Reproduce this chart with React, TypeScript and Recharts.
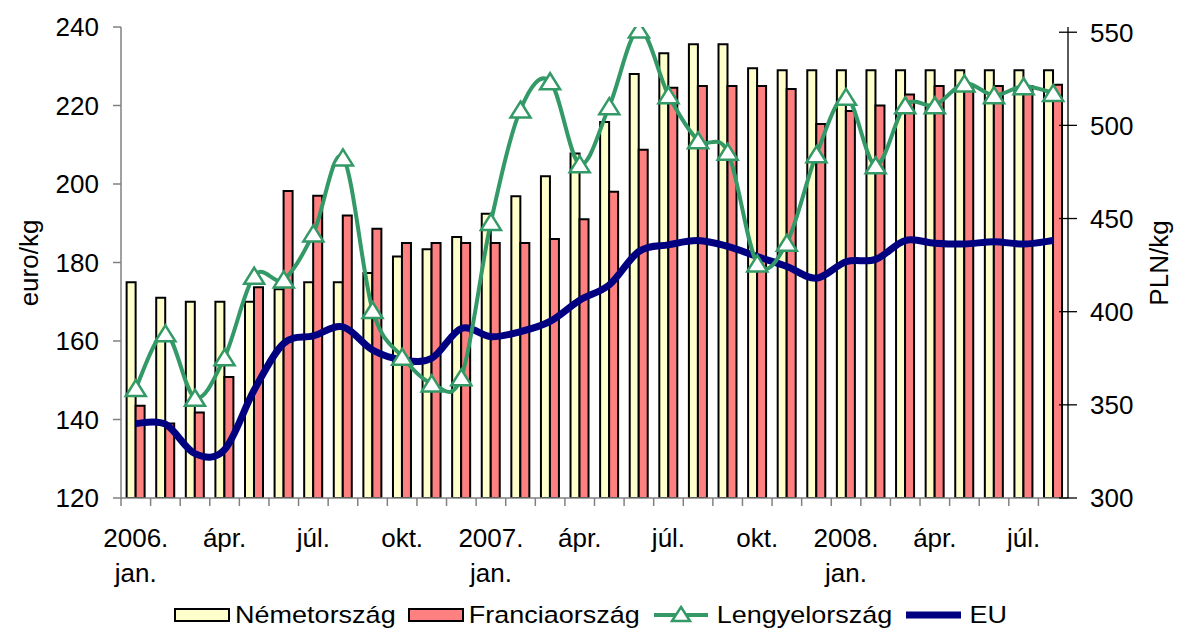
import { ComposedChart, Bar, Line, XAxis, YAxis, Legend } from "recharts";

const FONT = '"Liberation Sans", Arial, sans-serif';

const months = [
  "2006. jan.", "febr.", "márc.", "ápr.", "máj.", "jún.", "júl.", "aug.", "szept.", "okt.", "nov.", "dec.",
  "2007. jan.", "febr.", "márc.", "ápr.", "máj.", "jún.", "júl.", "aug.", "szept.", "okt.", "nov.", "dec.",
  "2008. jan.", "febr.", "márc.", "ápr.", "máj.", "jún.", "júl.", "aug.",
];

// euro/kg
const nemetorszag = [
  175, 171, 170, 170, 170, 173.2, 175, 175, 177.3, 181.5, 183.4, 186.5,
  192.4, 196.9, 202, 207.8, 215.8, 228, 233.3, 235.6, 235.6, 229.5, 229, 229,
  229, 229, 229, 229, 229, 229, 229, 229,
];
const franciaorszag = [
  143.5, 139, 141.8, 150.8, 173.7, 198.2, 197, 192, 188.6, 185, 185, 185,
  185, 185, 186, 191, 198, 208.7, 224.5, 225, 225, 225, 224.2, 215.3,
  218.6, 220, 222.8, 225, 225, 225, 225, 225.3,
];
const eu = [
  139, 138.8, 131.3, 132.3, 147.5, 159.4, 161.3, 163.6, 157.7, 155.2, 155.6, 163.2,
  161.1, 162.4, 165, 170.4, 174.3, 182.8, 184.5, 185.6, 184.1, 181.5, 179, 176,
  180.2, 180.8, 185.6, 184.9, 184.7, 185.3, 184.7, 185.6,
];
// PLN/kg (jobb tengely)
const lengyelorszag = [
  359, 388.4, 353.8, 375.5, 419.3, 417.3, 442, 482.8, 400.9, 375.8, 361.5, 364.8,
  448.2, 508.5, 523.7, 479.2, 510.3, 551.4, 516.2, 492, 485.8, 425.9, 437, 484.5,
  515.3, 478.6, 510.8, 510.8, 522.5, 516.2, 521, 517.4,
];

const leftTicks = [120, 140, 160, 180, 200, 220, 240];
const rightTicks = [300, 350, 400, 450, 500, 550];

const data = months.map((m, i) => ({
  month: m,
  de: nemetorszag[i],
  fr: franciaorszag[i],
  pl: lengyelorszag[i],
  eu: eu[i],
}));

// Excel-like smoothed line (Catmull-Rom)
const smooth = (context: any) => {
  let pts: number[][] = [];
  return {
    areaStart() {},
    areaEnd() {},
    lineStart() {
      pts = [];
    },
    point(x: number, y: number) {
      pts.push([+x, +y]);
    },
    lineEnd() {
      const n = pts.length;
      if (!n) return;
      context.moveTo(pts[0][0], pts[0][1]);
      for (let i = 0; i < n - 1; i++) {
        const p0 = pts[Math.max(i - 1, 0)];
        const p1 = pts[i];
        const p2 = pts[i + 1];
        const p3 = pts[Math.min(i + 2, n - 1)];
        context.bezierCurveTo(
          p1[0] + (p2[0] - p0[0]) / 6,
          p1[1] + (p2[1] - p0[1]) / 6,
          p2[0] - (p3[0] - p1[0]) / 6,
          p2[1] - (p3[1] - p1[1]) / 6,
          p2[0],
          p2[1]
        );
      }
    },
  };
};

const MonthTick = (props: any) => {
  const { x, y, payload, index } = props;
  const half = payload?.offset || 14.8;
  const parts = String(payload.value).split(" ");
  return (
    <g>
      <line x1={x - half} x2={x - half} y1={y} y2={y + 8} stroke="#808080" strokeWidth={1.5} />
      {index % 3 === 0 && (
        <text x={x} y={y + 49} textAnchor="middle" fontSize={26} fontFamily={FONT} fill="#000">
          {parts.map((p, i) => (
            <tspan key={i} x={x} dy={i === 0 ? 0 : 35}>
              {p}
            </tspan>
          ))}
        </text>
      )}
    </g>
  );
};

const RightTick = (props: any) => {
  const { x, y, payload } = props;
  const ax = x - 13 - 9;
  return (
    <g>
      <line x1={ax - 9} x2={ax + 9} y1={y} y2={y} stroke="#000" strokeWidth={1.3} />
      <text x={x} y={y} dy="0.36em" textAnchor="start" fontSize={26} fontFamily={FONT} fill="#000">
        {payload.value}
      </text>
    </g>
  );
};

const triangle = (props: any) => {
  const { cx, cy, index } = props;
  if (cx == null || cy == null) return <g key={`t${index}`} />;
  return (
    <path
      key={`t${index}`}
      d={`M${cx},${cy - 8} L${cx + 10},${cy + 8} L${cx - 10},${cy + 8} Z`}
      fill="#fff"
      stroke="#339966"
      strokeWidth={2.5}
    />
  );
};

const legendText = { display: "inline-block", transform: "scaleY(0.86)", marginLeft: 5 } as const;

const ChartLegend = () => (
  <div
    style={{
      display: "flex",
      justifyContent: "center",
      alignItems: "center",
      fontFamily: FONT,
      fontSize: 27,
      lineHeight: "30px",
      color: "#000",
      gap: 12,
    }}
  >
    <div style={{ display: "flex", alignItems: "center" }}>
      <span style={{ width: 56, height: 14, background: "#FFFFCC", border: "2px solid #000", boxSizing: "border-box" }} />
      <span style={legendText}>Németország</span>
    </div>
    <div style={{ display: "flex", alignItems: "center" }}>
      <span style={{ width: 56, height: 14, background: "#FF8080", border: "2px solid #000", boxSizing: "border-box" }} />
      <span style={legendText}>Franciaország</span>
    </div>
    <div style={{ display: "flex", alignItems: "center" }}>
      <svg width={60} height={24}>
        <line x1={2} x2={56} y1={12} y2={12} stroke="#339966" strokeWidth={4} />
        <path d="M29,4 L38,18 L20,18 Z" fill="#fff" stroke="#339966" strokeWidth={2.5} />
      </svg>
      <span style={legendText}>Lengyelország</span>
    </div>
    <div style={{ display: "flex", alignItems: "center" }}>
      <svg width={60} height={24}>
        <line x1={2} x2={57} y1={12} y2={12} stroke="#000080" strokeWidth={7} />
      </svg>
      <span style={legendText}>EU</span>
    </div>
  </div>
);

export default function App() {
  return (
    <div style={{ position: "absolute", left: 0, top: 0, width: 1181, height: 632, background: "#fff" }}>
      <ComposedChart
        width={1181}
        height={632}
        data={data}
        margin={{ top: 27, right: 0, bottom: 0, left: 0 }}
        barGap={0}
        barCategoryGap="19%"
      >
        <XAxis
          dataKey="month"
          interval={0}
          height={134}
          tickLine={false}
          tickSize={0}
          tickMargin={0}
          axisLine={{ stroke: "#808080", strokeWidth: 1.5 }}
          tick={<MonthTick />}
        />
        <YAxis
          yAxisId="left"
          width={121}
          domain={[120, 240]}
          ticks={leftTicks}
          allowDataOverflow
          tickSize={8}
          tickMargin={14}
          axisLine={{ stroke: "#808080", strokeWidth: 1.5 }}
          tickLine={{ stroke: "#808080", strokeWidth: 1.5 }}
          tick={{ fontSize: 26, fill: "#000", fontFamily: FONT }}
          label={() => (
            <text x={38} y={263} transform="rotate(-90, 38, 263)" textAnchor="middle" fontSize={26} fontFamily={FONT} fill="#000">
              euro/kg
            </text>
          )}
        />
        <YAxis
          yAxisId="right"
          orientation="right"
          width={113}
          domain={[300, 552.8]}
          ticks={rightTicks}
          allowDataOverflow
          tickSize={9}
          tickMargin={13}
          tickLine={false}
          axisLine={{ stroke: "#000", strokeWidth: 1.3 }}
          tick={<RightTick />}
          label={() => (
            <text x={1168} y={263} transform="rotate(-90, 1168, 263)" textAnchor="middle" fontSize={26} fontFamily={FONT} fill="#000">
              PLN/kg
            </text>
          )}
        />
        <Legend
          verticalAlign="middle"
          align="center"
          layout="horizontal"
          wrapperStyle={{ left: 0, top: 600, width: 1181 }}
          content={() => <ChartLegend />}
        />
        <Bar yAxisId="left" dataKey="de" name="Németország" fill="#FFFFCC" stroke="#000" strokeWidth={2} isAnimationActive={false} />
        <Bar yAxisId="left" dataKey="fr" name="Franciaország" fill="#FF8080" stroke="#000" strokeWidth={2} isAnimationActive={false} />
        <Line
          yAxisId="left"
          dataKey="eu"
          name="EU"
          type={smooth as any}
          stroke="#000080"
          strokeWidth={7}
          dot={false}
          activeDot={false}
          isAnimationActive={false}
        />
        <Line
          yAxisId="right"
          dataKey="pl"
          name="Lengyelország"
          type={smooth as any}
          stroke="#339966"
          strokeWidth={4}
          dot={triangle}
          activeDot={false}
          isAnimationActive={false}
        />
      </ComposedChart>
    </div>
  );
}
